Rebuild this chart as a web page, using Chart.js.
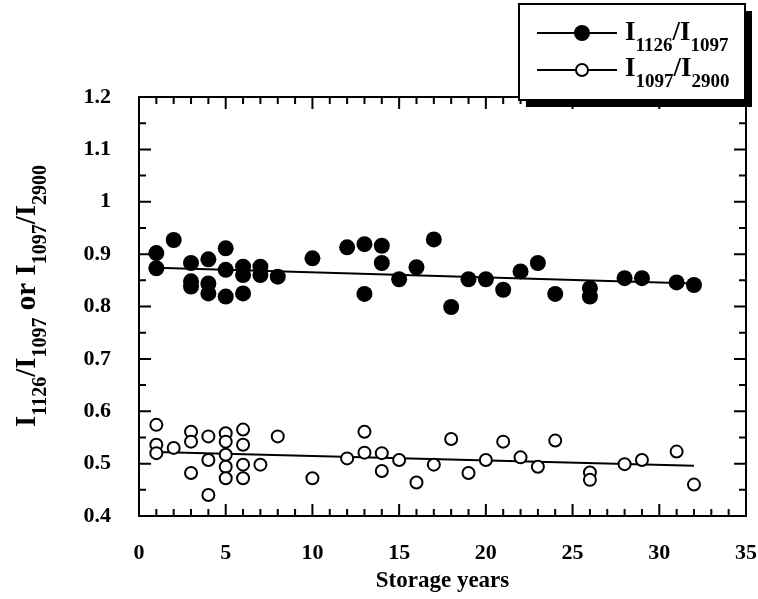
<!DOCTYPE html>
<html lang="en">
<head>
    <meta charset="UTF-8">
    <title>Band intensity ratios vs storage years</title>
    <script src="https://cdn.jsdelivr.net/npm/chart.js"></script>
    <style>
        body {
            margin: 0;
            background: #fff;
        }
        .wrap {
            position: relative;
            width: 758px;
            height: 599px;
        }
    </style>
</head>
<body>

<div class="wrap">
    <canvas id="ratioChart"></canvas>
</div>

<script>
    // I1126/I1097 (filled circles)
    const yearsA = [1, 1, 2, 3, 3, 3, 4, 4, 4, 5, 5, 5, 6, 6, 6, 7, 7, 8, 10, 12, 13, 13, 14, 14, 15, 16, 17, 18, 19, 20, 21, 22, 23, 24, 26, 26, 28, 29, 31, 32];
    const ratioA = [0.902, 0.873, 0.927, 0.883, 0.848, 0.838, 0.890, 0.844, 0.825, 0.911, 0.870, 0.819, 0.876, 0.860, 0.825, 0.876, 0.860, 0.857, 0.892, 0.913, 0.919, 0.824, 0.916, 0.883, 0.852, 0.875, 0.928, 0.799, 0.852, 0.852, 0.832, 0.867, 0.883, 0.824, 0.835, 0.819, 0.854, 0.854, 0.846, 0.841];

    // I1097/I2900 (open circles)
    const yearsB = [1, 1, 1, 2, 3, 3, 3, 4, 4, 4, 5, 5, 5, 5, 5, 6, 6, 6, 6, 7, 8, 10, 12, 13, 13, 14, 14, 15, 16, 17, 18, 19, 20, 21, 22, 23, 24, 26, 26, 28, 29, 31, 32];
    const ratioB = [0.574, 0.536, 0.520, 0.530, 0.561, 0.542, 0.482, 0.552, 0.507, 0.440, 0.558, 0.542, 0.517, 0.494, 0.472, 0.565, 0.536, 0.498, 0.472, 0.498, 0.552, 0.472, 0.510, 0.561, 0.521, 0.520, 0.486, 0.507, 0.464, 0.498, 0.547, 0.482, 0.507, 0.542, 0.512, 0.494, 0.544, 0.483, 0.469, 0.499, 0.507, 0.523, 0.460];

    // fitted lines (end points)
    const fitYears = [1, 32];
    const fitA = [0.874, 0.844];
    const fitB = [0.522, 0.496];

    const xTicks = [0, 5, 10, 15, 20, 25, 30, 35];
    const xTitle = 'Storage years';
    const yTitle = [['I', 0], ['1126', 1], ['/I', 0], ['1097', 1], [' or I', 0], ['1097', 1], ['/I', 0], ['2900', 1]];
    const legendA = [['I', 0], ['1126', 1], ['/I', 0], ['1097', 1]];
    const legendB = [['I', 0], ['1097', 1], ['/I', 0], ['2900', 1]];

    const pts = (xs, ys) => xs.map((v, i) => ({x: v, y: ys[i]}));

    // text with subscripts, drawn on the canvas
    function partsWidth(ctx, parts, size) {
        let w = 0;
        parts.forEach(p => {
            ctx.font = 'bold ' + (p[1] ? size.sub : size.main) + 'px "Liberation Serif"';
            w += ctx.measureText(p[0]).width;
        });
        return w;
    }
    function drawParts(ctx, parts, x, y, size) {
        ctx.textBaseline = 'alphabetic';
        ctx.textAlign = 'left';
        parts.forEach(p => {
            ctx.font = 'bold ' + (p[1] ? size.sub : size.main) + 'px "Liberation Serif"';
            ctx.fillText(p[0], x, p[1] ? y + 11 : y);
            x += ctx.measureText(p[0]).width;
        });
    }
    const legendSize = {main: 27, sub: 19};
    const titleSize = {main: 29, sub: 20};

    const framePlugin = {
        id: 'framePlugin',
        afterDraw(chart) {
            const {ctx, chartArea: a, scales: {x, y}} = chart;
            ctx.save();
            ctx.strokeStyle = '#000';
            ctx.fillStyle = '#000';
            ctx.lineWidth = 2;
            ctx.strokeRect(a.left, a.top, a.right - a.left, a.bottom - a.top);

            // inward ticks on all four sides
            ctx.beginPath();
            for (let v = 0; v <= 35; v++) {
                const px = x.getPixelForValue(v);
                const len = v % 5 === 0 ? 12 : 7;
                ctx.moveTo(px, a.bottom); ctx.lineTo(px, a.bottom - len);
                ctx.moveTo(px, a.top); ctx.lineTo(px, a.top + len);
            }
            for (let i = 0; i <= 16; i++) {
                const py = y.getPixelForValue(0.4 + i * 0.05);
                const len = i % 2 === 0 ? 12 : 7;
                ctx.moveTo(a.left, py); ctx.lineTo(a.left + len, py);
                ctx.moveTo(a.right, py); ctx.lineTo(a.right - len, py);
            }
            ctx.stroke();

            // y axis title, rotated
            ctx.save();
            ctx.translate(35, 296);
            ctx.rotate(-Math.PI / 2);
            drawParts(ctx, yTitle, -partsWidth(ctx, yTitle, titleSize) / 2, 0, titleSize);
            ctx.restore();

            // legend box with drop shadow
            ctx.fillRect(526, 11, 226, 96);
            ctx.fillStyle = '#fff';
            ctx.fillRect(519, 4, 226, 96);
            ctx.strokeRect(519, 4, 226, 96);
            ctx.fillStyle = '#000';
            ctx.beginPath();
            ctx.moveTo(537, 33); ctx.lineTo(617, 33);
            ctx.moveTo(537, 70); ctx.lineTo(617, 70);
            ctx.stroke();
            ctx.beginPath();
            ctx.arc(582, 33, 8, 0, Math.PI * 2);
            ctx.fill();
            ctx.beginPath();
            ctx.arc(582, 70, 6, 0, Math.PI * 2);
            ctx.fillStyle = '#fff';
            ctx.fill();
            ctx.stroke();
            ctx.fillStyle = '#000';
            drawParts(ctx, legendA, 625, 40, legendSize);
            drawParts(ctx, legendB, 625, 76, legendSize);
            ctx.restore();
        }
    };

    const tickFont = {family: 'Liberation Serif', size: 22, weight: 'bold'};

    new Chart(document.getElementById('ratioChart'), {
        type: 'scatter',
        data: {
            datasets: [
                {
                    label: 'I1126/I1097',
                    data: pts(yearsA, ratioA),
                    pointRadius: 8,
                    pointBackgroundColor: '#000',
                    pointBorderWidth: 0,
                    order: 1
                },
                {
                    label: 'I1097/I2900',
                    data: pts(yearsB, ratioB),
                    pointRadius: 6,
                    pointBackgroundColor: '#fff',
                    pointBorderColor: '#000',
                    pointBorderWidth: 2,
                    order: 1
                },
                {
                    type: 'line',
                    data: pts(fitYears, fitA),
                    borderColor: '#000',
                    borderWidth: 2,
                    pointRadius: 0,
                    order: 2
                },
                {
                    type: 'line',
                    data: pts(fitYears, fitB),
                    borderColor: '#000',
                    borderWidth: 2,
                    pointRadius: 0,
                    order: 2
                }
            ]
        },
        options: {
            responsive: true,
            maintainAspectRatio: false,
            animation: false,
            layout: {padding: {left: 0, right: 12, top: 97, bottom: 0}},
            plugins: {
                legend: {display: false},
                tooltip: {enabled: false}
            },
            scales: {
                x: {
                    type: 'linear',
                    min: 0,
                    max: 35,
                    // fixed height, and no extra side padding for the end labels
                    afterFit: s => { s.height = 83; s.paddingLeft = 0; s.paddingRight = 0; },
                    afterBuildTicks: s => { s.ticks = xTicks.map(v => ({value: v})); },
                    grid: {display: false, drawTicks: false},
                    border: {display: false},
                    ticks: {color: '#000', font: tickFont, padding: 24, maxRotation: 0},
                    title: {
                        display: true,
                        text: xTitle,
                        color: '#000',
                        font: {family: 'Liberation Serif', size: 23, weight: 'bold'},
                        padding: {top: 0, bottom: 4}
                    }
                },
                y: {
                    min: 0.4,
                    max: 1.2,
                    afterFit: s => { s.width = 139; },
                    grid: {display: false, drawTicks: false},
                    border: {display: false},
                    ticks: {
                        stepSize: 0.1,
                        color: '#000',
                        font: tickFont,
                        padding: 28,
                        callback: v => String(+v.toFixed(1))
                    }
                }
            }
        },
        plugins: [framePlugin]
    });
</script>

</body>
</html>
